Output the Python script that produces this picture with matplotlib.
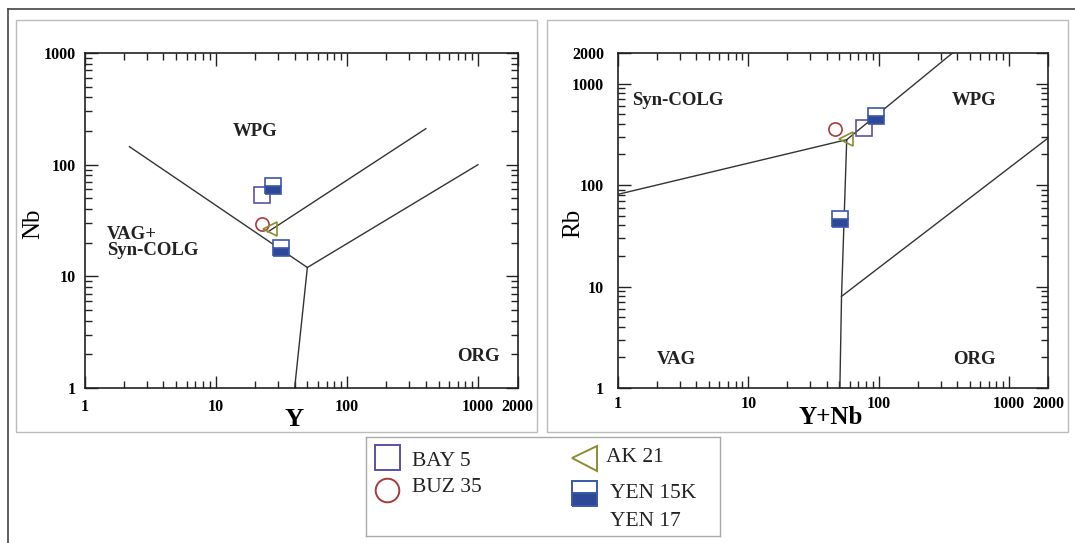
import numpy as np
import matplotlib.pyplot as plt
from matplotlib.ticker import LogLocator, NullFormatter, FixedLocator, FixedFormatter
from matplotlib.patches import Rectangle
from matplotlib.lines import Line2D

plt.rcParams['font.family'] = ['Liberation Serif', 'DejaVu Serif']

# samples (same order in both diagrams)
samples = ['BAY 5', 'BUZ 35', 'AK 21', 'YEN 15K', 'YEN 17']

# Nb vs Y diagram
y_ppm = [22.6, 22.5, 26.0, 27.5, 31.5]
nb_ppm = [53.0, 29.5, 26.5, 64.0, 18.0]

# Rb vs Y+Nb diagram
ynb_ppm = [77.0, 46.5, 56.0, 96.0, 51.0]
rb_ppm = [365.0, 360.0, 285.0, 480.0, 46.0]

# discrimination boundaries
nby_lines = [
    ([2.2, 50, 40], [145, 12, 1]),
    ([50, 1000], [12, 100]),
    ([25, 400], [25, 210]),
]
rb_lines = [
    ([1, 57, 370], [81, 280, 2000]),
    ([57, 52, 50.5], [280, 8, 1]),
    ([52, 2000], [8, 290]),
]

nby_fields = [('WPG', 20, 200), ('VAG+\nSyn-COLG', 1.48, 20), ('ORG', 1000, 1.93)]
rb_fields = [('Syn-COLG', 1.29, 680), ('WPG', 544, 680), ('VAG', 1.98, 1.91), ('ORG', 544, 1.91)]

styles = {
    'BAY 5': dict(marker='s', mfc='none', mec='#5a50a8'),
    'BUZ 35': dict(marker='o', mfc='none', mec='#a83a3a'),
    'AK 21': dict(marker='<', mfc='none', mec='#8c8c30'),
    'YEN 15K': dict(marker='s', mfc='#2d4896', mec='#3a58a8', fillstyle='bottom', markerfacecoloralt='white'),
    'YEN 17': dict(marker='s', mfc='#2d4896', mec='#3a58a8', fillstyle='bottom', markerfacecoloralt='white'),
}
sizes = {'s': 11.5, 'o': 9.5, '<': 10.5}

W, H = 1075, 543
fig = plt.figure(figsize=(W / 100, H / 100), dpi=100)

# outer frame (top and left only) and the two light panel frames
fig.add_artist(Line2D([8 / W, 1], [1 - 9 / H, 1 - 9 / H], color='#444444', lw=1.2))
fig.add_artist(Line2D([8 / W, 8 / W], [0, 1 - 9 / H], color='#444444', lw=1.2))
for x0 in [15.5, 547]:
    fig.add_artist(Rectangle((x0 / W, 1 - 432 / H), 521 / W, 412 / H, transform=fig.transFigure,
                             fill=False, ec='#bbbbbb', lw=1))


def setup_axis(ax, xticks, yticks, ypad, xpad):
    ax.set_xscale('log')
    ax.set_yscale('log')
    ax.xaxis.set_major_locator(FixedLocator(xticks))
    ax.xaxis.set_major_formatter(FixedFormatter([str(t) for t in xticks]))
    ax.yaxis.set_major_locator(FixedLocator(yticks))
    ax.yaxis.set_major_formatter(FixedFormatter([str(t) for t in yticks]))
    ax.xaxis.set_minor_locator(LogLocator(base=10, subs=np.arange(2, 10)))
    ax.yaxis.set_minor_locator(LogLocator(base=10, subs=np.arange(2, 10)))
    ax.xaxis.set_minor_formatter(NullFormatter())
    ax.yaxis.set_minor_formatter(NullFormatter())
    ax.tick_params(which='both', direction='in', top=True, right=True, width=1, color='#222222')
    ax.tick_params(which='major', length=9)
    ax.tick_params(which='minor', length=5)
    ax.tick_params(axis='y', which='major', pad=ypad)
    ax.tick_params(axis='x', which='major', pad=xpad)
    for lab in ax.get_xticklabels() + ax.get_yticklabels():
        lab.set_fontweight('bold')
        lab.set_fontsize(11.5)
    for sp in ax.spines.values():
        sp.set_linewidth(1.2)
        sp.set_color('#222222')


def draw(ax, xs, ys, lines, fields):
    for lx, ly in lines:
        ax.plot(lx, ly, color='#333333', lw=1)
    for name, x, y in zip(samples, xs, ys):
        st = styles[name]
        ax.plot([x], [y], ls='none', ms=sizes[st['marker']], mew=1.2, **st)
    for txt, x, y in fields:
        ha = 'left' if x < 5 else 'center'
        ax.text(x, y, txt, ha=ha, va='center', fontsize=13.5, fontweight='bold',
                linespacing=0.9, color='#222222')


ax1 = fig.add_axes([84.5 / W, 1 - 388 / H, 433 / W, 335 / H])
draw(ax1, y_ppm, nb_ppm, nby_lines, nby_fields)
ax1.set_xlim(1, 2000)
ax1.set_ylim(1, 1000)
setup_axis(ax1, [1, 10, 100, 1000, 2000], [1, 10, 100, 1000], 6.5, 8)
ax1.set_xlabel('Y', fontsize=19, fontweight='bold')
ax1.set_ylabel('Nb', fontsize=18)
ax1.xaxis.set_label_coords(0.483, -0.06)
ax1.yaxis.set_label_coords(-0.092, 0.49)

ax2 = fig.add_axes([618 / W, 1 - 388 / H, 430 / W, 335 / H])
draw(ax2, ynb_ppm, rb_ppm, rb_lines, rb_fields)
ax2.set_xlim(1, 2000)
ax2.set_ylim(1, 2000)
setup_axis(ax2, [1, 10, 100, 1000, 2000], [1, 10, 100, 1000, 2000], 10, 6)
ax2.set_xlabel('Y+Nb', fontsize=18, fontweight='bold')
ax2.set_ylabel('Rb', fontsize=18)
ax2.xaxis.set_label_coords(0.495, -0.055)
ax2.yaxis.set_label_coords(-0.078, 0.49)

# legend box drawn in its own axes (pixel-like local coordinates)
axl = fig.add_axes([366 / W, 1 - 536 / H, 354 / W, 99 / H])
axl.set_xlim(0, 354)
axl.set_ylim(99, 0)
axl.set_xticks([])
axl.set_yticks([])
for sp in axl.spines.values():
    sp.set_color('#aaaaaa')
    sp.set_linewidth(1)
leg_rows = [
    ('BAY 5', 21, 20, 46, 25),
    ('BUZ 35', 21, 53, 46, 51),
    ('AK 21', 218, 21, 240, 20),
    ('YEN 15K', 218, 56, 244, 57),
]
leg_sizes = {'s': 18, 'o': 17, '<': 18}
for name, mx, my, tx, ty in leg_rows:
    st = styles[name]
    axl.plot([mx], [my], ls='none', ms=leg_sizes[st['marker']], mew=1.4, **st)
    axl.text(tx, ty, name, ha='left', va='center', fontsize=15.5, color='#222222')
axl.text(244, 84, 'YEN 17', ha='left', va='center', fontsize=15.5, color='#222222')

plt.savefig('out.png', dpi=100)
